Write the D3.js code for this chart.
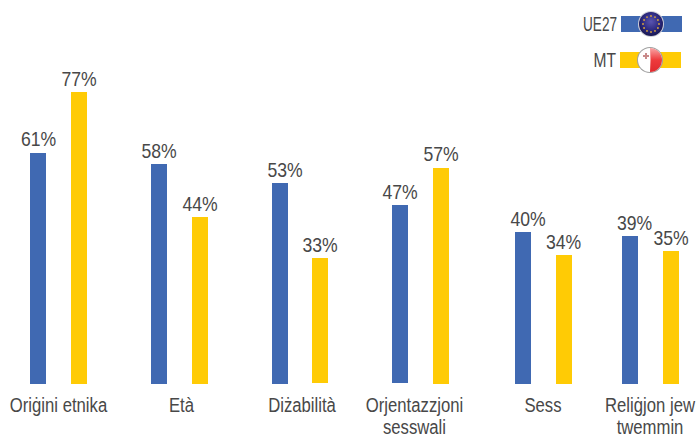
<!DOCTYPE html>
<html><head><meta charset="utf-8">
<script src="https://cdn.jsdelivr.net/npm/d3@7/dist/d3.min.js"></script>
<style>html,body{margin:0;padding:0;background:#fff}svg{display:block}
text{font-family:"Liberation Sans",Arial,sans-serif;fill:#484848}</style></head><body>
<svg id="c" width="697" height="435"></svg>
<script>
const categories = ["Oriġini etnika","Età","Diżabilità","Orjentazzjoni sesswali","Sess","Reliġjon jew twemmin"];
const labelLines = [["Oriġini etnika"],["Età"],["Diżabilità"],["Orjentazzjoni","sesswali"],["Sess"],["Reliġjon jew","twemmin"]];
const seriesNames = ["UE27","MT"];
const ue27 = [61,58,53,47,40,39];
const mt = [77,44,33,57,34,35];
const colors = ["#4069B2","#FFCB05"];
const barCenters = [[38,159,280,400,523,630],[79,200,320,441,564,671]];
const barNudge = [[0,0,0,-1,0,0],[0,0,-1,0,0,0]];
const valueCenters = [[38.5,159,285,400,528,634.5],[79,200,320,441,563.5,671]];
const axisCenters = [58.5,181.5,302,414.5,543,650];

const svg = d3.select("#c");
const y = d3.scaleLinear().domain([0,77]).range([384,92]);
const barW = 16;

function sText(g, px, py, s, size, sx){
  g.append("text").attr("transform",`translate(${px},${py}) scale(${sx},1)`)
   .attr("text-anchor","middle").attr("font-size",size).text(s);
}
[ue27,mt].forEach((vals,si)=>{
  const xb = d3.scaleOrdinal(categories, barCenters[si]);
  const xv = d3.scaleOrdinal(categories, valueCenters[si]);
  svg.append("g").selectAll("rect").data(vals).join("rect")
    .attr("x",(d,i)=>xb(categories[i])-barW/2)
    .attr("width",barW)
    .attr("y",(d,i)=>Math.round(y(d))+barNudge[si][i])
    .attr("height",(d,i)=>y(0)-Math.round(y(d)))
    .attr("fill",colors[si]);
  const lg = svg.append("g");
  vals.forEach((d,i)=>sText(lg, xv(categories[i]), y(d)-6.5, d+"%", 20, 0.88));
});
const xa = d3.scaleOrdinal(categories, axisCenters);
const ag = svg.append("g");
labelLines.forEach((ls,i)=>ls.forEach((s,j)=>{
  sText(ag, xa(categories[i]), 412+j*21.5, s, 20, 0.835);
}));

// legend
const defs = svg.append("defs");
const g1 = defs.append("radialGradient").attr("id","eu").attr("cx","50%").attr("cy","40%").attr("r","60%");
[[0,"#5a55b0"],[0.6,"#2d2a80"],[1,"#17164f"]].forEach(s=>g1.append("stop").attr("offset",s[0]).attr("stop-color",s[1]));
const g2 = defs.append("linearGradient").attr("id","mtr").attr("x1","0").attr("x2","0").attr("y1","0").attr("y2","1");
[[0,"#f9a5a5"],[0.5,"#ee3a3c"],[1,"#e02a2e"]].forEach(s=>g2.append("stop").attr("offset",s[0]).attr("stop-color",s[1]));
const legend = [{n:"UE27",x0:621,yc:24,tx:617,cx:651,sx:0.68},{n:"MT",x0:620,yc:60,tx:616,cx:650,sx:0.78}];
legend.forEach((l,i)=>{
  svg.append("rect").attr("x",l.x0).attr("y",l.yc-8).attr("width",61).attr("height",16).attr("fill",colors[i]);
  svg.append("text").attr("transform",`translate(${l.tx},${l.yc+7}) scale(${l.sx},1)`).attr("text-anchor","end").attr("font-size",20).text(l.n);
});
const e = legend[0];
svg.append("circle").attr("cx",e.cx).attr("cy",e.yc).attr("r",13).attr("fill","#cfcfd8");
svg.append("circle").attr("cx",e.cx).attr("cy",e.yc).attr("r",12).attr("fill","url(#eu)");
d3.range(12).forEach(k=>{
  const a=k/12*2*Math.PI;
  svg.append("circle").attr("cx",e.cx+8*Math.cos(a)).attr("cy",e.yc+8*Math.sin(a)).attr("r",0.9).attr("fill","#e0a93a");
});
const m = legend[1], r=12, cy=m.yc;
svg.append("circle").attr("cx",m.cx).attr("cy",cy).attr("r",13).attr("fill","#a0a0a0");
svg.append("circle").attr("cx",m.cx).attr("cy",cy).attr("r",12).attr("fill","#fff");
svg.append("path").attr("d",`M${m.cx},${cy-r}A${r},${r} 0 0 1 ${m.cx},${cy+r}Q${m.cx+1},${cy} ${m.cx},${cy-r}Z`).attr("fill","url(#mtr)");
svg.append("path").attr("d",`M${m.cx-7},${cy-5}h2v-2h2v2h2v2h-2v2h-2v-2h-2z`).attr("fill","#c98a8a");
</script></body></html>
